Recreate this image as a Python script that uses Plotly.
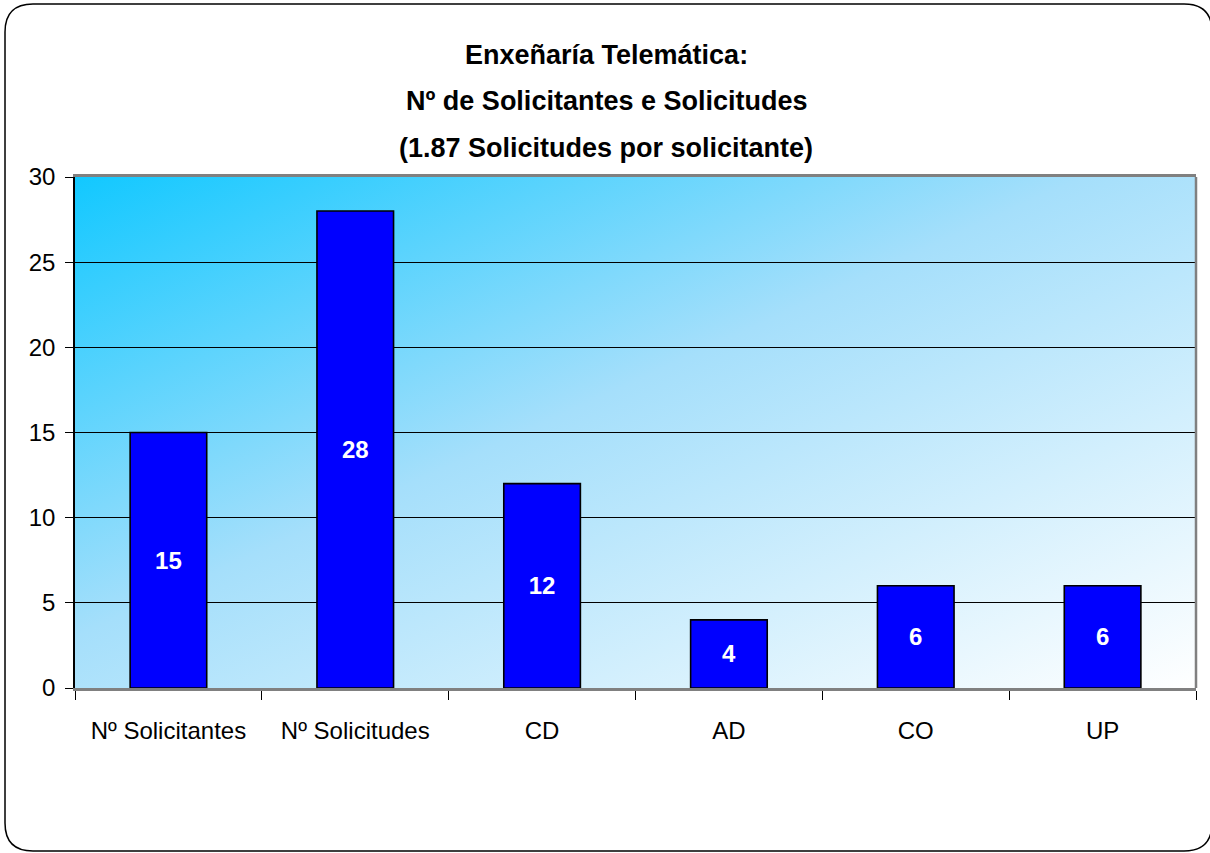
import base64
import plotly.graph_objects as go

categories = ["Nº Solicitantes", "Nº Solicitudes", "CD", "AD", "CO", "UP"]
values = [15, 28, 12, 4, 6, 6]
y_ticks = [0, 5, 10, 15, 20, 25, 30]
title_lines = ["Enxeñaría Telemática:", "Nº de Solicitantes e Solicitudes", "(1.87 Solicitudes por solicitante)"]

FONT = "Liberation Sans Narrow, Arial Narrow, Liberation Sans, Arial, sans-serif"
W, H = 1210, 853
L, R, T, B = 75, 14, 177, 165
PW, PH = W - L - R, H - T - B

def px_to_paper(x, y):
    return (x - L) / PW, (H - B - y) / PH

# diagonal gradient background (top-left cyan -> bottom-right white)
svg = (
    '<svg xmlns="http://www.w3.org/2000/svg" width="400" height="200" preserveAspectRatio="none" viewBox="0 0 400 200">'
    '<defs><linearGradient id="g" x1="0" y1="0" x2="1" y2="1">'
    '<stop offset="0" stop-color="#12c8ff"/>'
    '<stop offset="0.45" stop-color="#a5dffb"/>'
    '<stop offset="1" stop-color="#ffffff"/>'
    '</linearGradient></defs>'
    '<rect x="0" y="0" width="400" height="200" fill="url(#g)"/></svg>'
)
svg_uri = "data:image/svg+xml;base64," + base64.b64encode(svg.encode()).decode()

fig = go.Figure()
fig.add_trace(go.Bar(
    x=categories, y=values,
    marker=dict(color="#0000ff", line=dict(color="#000000", width=1.6)),
    text=[str(v) for v in values],
    textposition="inside", insidetextanchor="middle",
    textfont=dict(family=FONT, size=24, color="white", weight="bold"),
    width=0.41,
    hoverinfo="skip",
))

fig.add_layout_image(dict(
    source=svg_uri, xref="paper", yref="paper", x=0, y=1,
    sizex=1, sizey=1, sizing="stretch", xanchor="left", yanchor="top",
    layer="below",
))

# rounded outer frame
x0, y0, x1, y1, r = 5, 4, 1212, 851, 28
def P(x, y):
    a, b = px_to_paper(x, y)
    return f"{a:.5f},{b:.5f}"
path = (
    f"M {P(x0 + r, y0)} L {P(x1 - r, y0)} Q {P(x1, y0)} {P(x1, y0 + r)} "
    f"L {P(x1, y1 - r)} Q {P(x1, y1)} {P(x1 - r, y1)} "
    f"L {P(x0 + r, y1)} Q {P(x0, y1)} {P(x0, y1 - r)} "
    f"L {P(x0, y0 + r)} Q {P(x0, y0)} {P(x0 + r, y0)} Z"
)
fig.add_shape(type="path", path=path, xref="paper", yref="paper",
              line=dict(color="#000000", width=1.5), layer="above")
# right border of plot area
fig.add_shape(type="line", xref="paper", yref="paper", x0=1, x1=1, y0=0, y1=1,
              line=dict(color="#808080", width=2.5), layer="above")

ys = [55, 101, 148]
for line, yy in zip(title_lines, ys):
    fig.add_annotation(text=line, xref="paper", yref="paper",
                       x=px_to_paper(606, 0)[0], y=px_to_paper(0, yy)[1],
                       showarrow=False, xanchor="center", yanchor="middle",
                       font=dict(family=FONT, size=27, color="black", weight="bold"))

fig.update_layout(
    width=W, height=H,
    margin=dict(l=L, r=R, t=T, b=B, pad=0),
    paper_bgcolor="white", plot_bgcolor="rgba(0,0,0,0)",
    showlegend=False,
    font=dict(family=FONT, size=24, color="black"),
    bargap=0.59,
)
fig.update_xaxes(
    type="category", showgrid=False, showline=True, linecolor="#808080", linewidth=2.5,
    mirror=True, ticks="outside", tickson="boundaries", ticklen=9, tickcolor="black",
    tickwidth=1.2, tickfont=dict(family=FONT, size=24, color="black"), ticklabelstandoff=19,
)
fig.update_yaxes(
    range=[0, 30], tickvals=y_ticks, showgrid=True, gridcolor="#000000", gridwidth=1,
    showline=True, linecolor="black", linewidth=1.5, ticks="outside", ticklen=8,
    tickcolor="black", tickwidth=1.2, zeroline=False, ticklabelstandoff=5,
    tickfont=dict(family=FONT, size=24, color="black"),
)
fig.write_html("out.html", config={"displayModeBar": False},
               post_script="document.body.style.margin='0px';document.body.style.overflow='hidden';")
